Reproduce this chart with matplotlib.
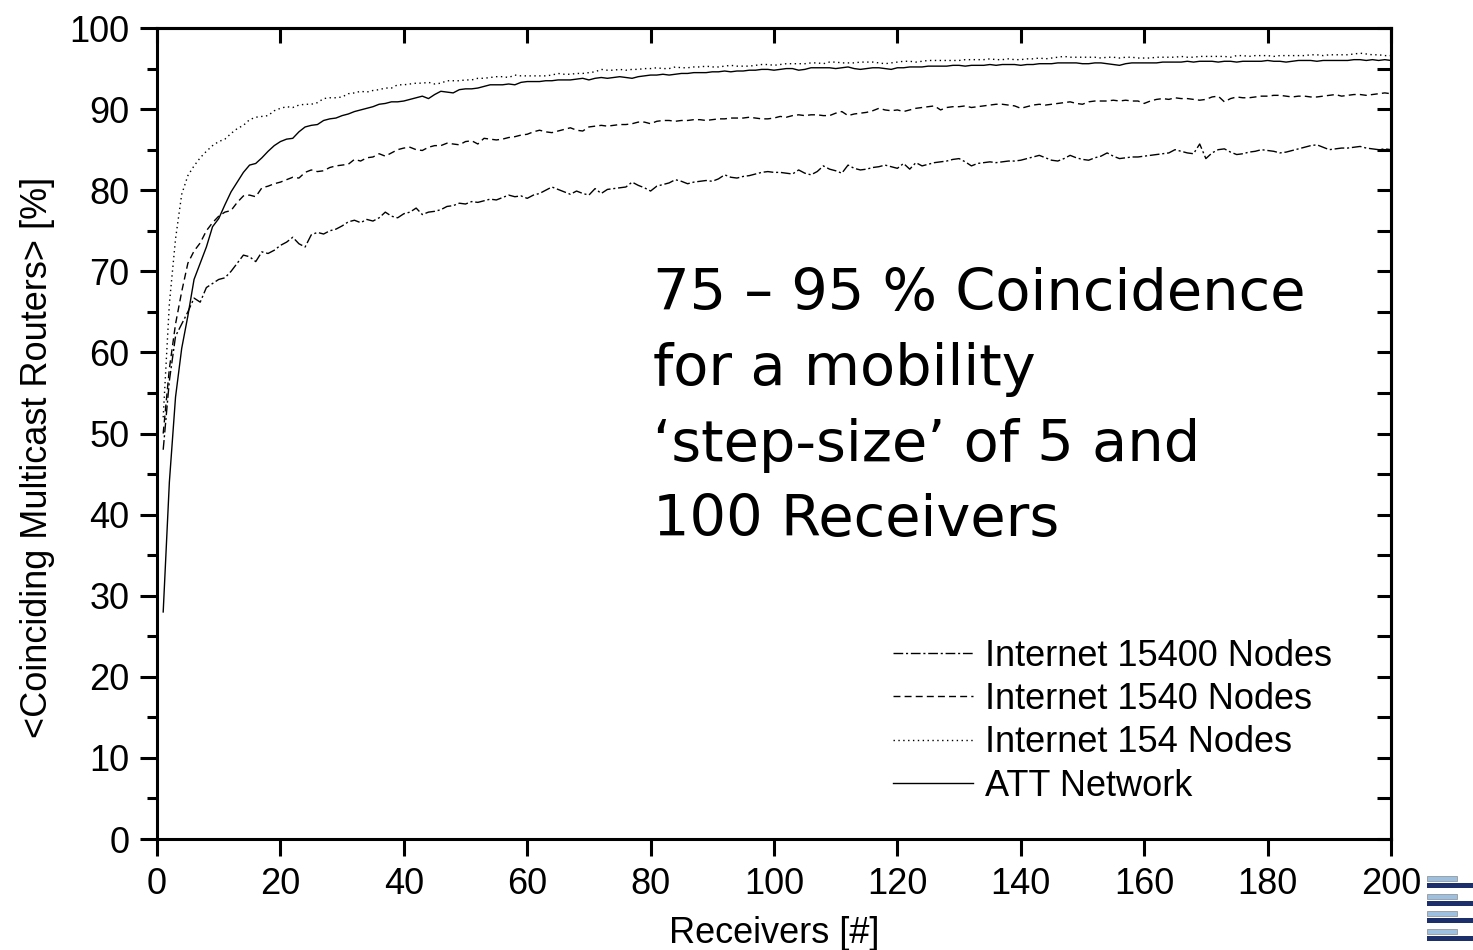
import numpy as np
import matplotlib
matplotlib.use("Agg")
import matplotlib.pyplot as plt
from matplotlib.patches import Rectangle

# receivers 1..200
receivers = list(range(1, 201))

att_network = [
    28.0, 44.0, 54.5, 60.5, 64.5, 69.0, 71.0, 73.0, 75.5, 76.5,
    78.2, 79.8, 81.0, 82.2, 83.1, 83.3, 84.0, 84.8, 85.5, 86.0,
    86.3, 86.4, 87.2, 87.8, 88.0, 88.1, 88.6, 88.8, 88.9, 89.2,
    89.4, 89.7, 89.9, 90.1, 90.3, 90.6, 90.7, 90.9, 90.9, 91.0,
    91.2, 91.4, 91.6, 91.3, 91.8, 92.2, 92.1, 92.0, 92.4, 92.5,
    92.5, 92.6, 92.8, 93.0, 93.0, 93.0, 93.1, 93.0, 93.3, 93.4,
    93.4, 93.4, 93.5, 93.5, 93.6, 93.6, 93.6, 93.7, 93.8, 93.6,
    93.8, 93.9, 93.8, 93.9, 94.0, 93.9, 93.8, 94.0, 94.1, 94.2,
    94.2, 94.3, 94.2, 94.3, 94.4, 94.4, 94.5, 94.5, 94.5, 94.6,
    94.6, 94.7, 94.6, 94.7, 94.7, 94.8, 94.8, 94.9, 94.9, 94.8,
    94.9, 95.0, 95.0, 94.8, 94.9, 95.1, 95.1, 95.1, 95.1, 95.0,
    95.1, 95.2, 95.0, 94.9, 95.0, 95.1, 95.1, 95.0, 94.9, 95.1,
    95.1, 95.2, 95.2, 95.2, 95.3, 95.3, 95.3, 95.3, 95.4, 95.4,
    95.3, 95.4, 95.4, 95.4, 95.5, 95.4, 95.5, 95.5, 95.5, 95.4,
    95.5, 95.5, 95.6, 95.6, 95.6, 95.7, 95.7, 95.7, 95.7, 95.6,
    95.6, 95.7, 95.7, 95.6, 95.5, 95.4, 95.6, 95.7, 95.7, 95.7,
    95.7, 95.7, 95.8, 95.8, 95.8, 95.8, 95.9, 95.8, 95.9, 95.9,
    95.9, 95.8, 95.9, 95.9, 95.8, 95.9, 95.9, 95.9, 95.9, 96.0,
    95.9, 95.9, 95.8, 95.9, 96.0, 96.0, 96.0, 95.9, 96.0, 96.0,
    96.0, 96.0, 96.0, 96.1, 96.1, 96.0, 96.1, 96.0, 96.1, 96.0,
]

inet_154 = [
    52.0, 66.0, 74.0, 79.5, 81.8, 83.0, 84.0, 84.8, 85.5, 86.0,
    86.3, 87.0, 87.6, 88.0, 88.7, 89.0, 89.1, 89.2, 89.8, 90.1,
    90.3, 90.2, 90.5, 90.6, 90.6, 90.8, 91.3, 91.4, 91.4, 91.5,
    91.9, 92.0, 92.2, 92.1, 92.3, 92.4, 92.6, 92.6, 93.0, 93.0,
    93.1, 93.2, 93.2, 93.3, 93.1, 93.2, 93.5, 93.5, 93.5, 93.6,
    93.6, 93.8, 93.8, 93.9, 94.0, 94.0, 93.9, 94.2, 94.1, 94.1,
    94.1, 94.1, 94.1, 94.2, 94.4, 94.3, 94.3, 94.4, 94.4, 94.5,
    94.6, 94.9, 94.8, 94.8, 94.9, 94.8, 94.9, 94.9, 95.0, 95.0,
    95.1, 95.0, 95.0, 95.2, 95.1, 95.1, 95.2, 95.2, 95.3, 95.2,
    95.2, 95.3, 95.4, 95.3, 95.3, 95.3, 95.4, 95.5, 95.5, 95.4,
    95.5, 95.6, 95.6, 95.6, 95.6, 95.7, 95.7, 95.6, 95.8, 95.8,
    95.7, 95.7, 95.7, 95.8, 95.8, 95.8, 95.7, 95.6, 95.7, 95.8,
    95.9, 95.9, 95.8, 95.9, 96.0, 96.0, 96.0, 96.0, 96.0, 96.0,
    96.1, 96.1, 96.1, 96.1, 96.2, 96.1, 96.1, 96.2, 96.1, 96.1,
    96.2, 96.2, 96.3, 96.2, 96.3, 96.4, 96.5, 96.4, 96.4, 96.4,
    96.4, 96.4, 96.3, 96.4, 96.4, 96.3, 96.4, 96.4, 96.3, 96.3,
    96.3, 96.4, 96.4, 96.4, 96.4, 96.5, 96.4, 96.4, 96.5, 96.5,
    96.5, 96.5, 96.5, 96.4, 96.6, 96.6, 96.5, 96.6, 96.6, 96.6,
    96.5, 96.6, 96.6, 96.6, 96.6, 96.6, 96.7, 96.7, 96.6, 96.7,
    96.7, 96.7, 96.7, 96.8, 96.9, 96.8, 96.7, 96.7, 96.6, 96.6,
]

inet_1540 = [
    50.0, 58.0, 63.5, 67.5, 71.0, 72.5, 73.5, 75.0, 76.0, 76.8,
    77.3, 77.5, 78.5, 79.3, 79.4, 79.2, 80.3, 80.5, 80.8, 81.0,
    81.3, 81.6, 81.5, 82.2, 82.5, 82.3, 82.4, 82.8, 83.0, 83.1,
    83.2, 83.8, 83.6, 84.0, 84.1, 84.5, 84.2, 84.6, 85.0, 85.2,
    85.3, 85.0, 84.9, 85.3, 85.5, 85.5, 85.8, 85.7, 85.6, 86.0,
    86.1, 85.7, 86.4, 86.3, 86.2, 86.3, 86.5, 86.6, 86.8, 86.9,
    87.2, 87.4, 87.2, 87.1, 87.3, 87.5, 87.7, 87.4, 87.3, 87.8,
    87.9, 88.0, 87.9, 88.0, 88.1, 88.1, 88.2, 88.4, 88.4, 88.2,
    88.5, 88.6, 88.6, 88.5, 88.6, 88.6, 88.7, 88.7, 88.6, 88.7,
    88.8, 88.8, 88.9, 88.9, 88.9, 89.0, 88.9, 88.8, 88.8, 88.9,
    89.1, 89.0, 89.2, 89.3, 89.2, 89.3, 89.3, 89.2, 89.2, 89.5,
    89.7, 89.2, 89.4, 89.5, 89.6, 89.8, 90.1, 89.9, 89.8, 89.9,
    89.7, 89.9, 90.1, 90.2, 90.3, 90.4, 89.9, 90.2, 90.3, 90.3,
    90.4, 90.2, 90.3, 90.4, 90.5, 90.6, 90.6, 90.5, 90.4, 90.1,
    90.3, 90.5, 90.6, 90.5, 90.6, 90.7, 90.8, 90.9, 90.7, 90.6,
    90.9, 91.0, 91.0, 91.0, 91.1, 91.0, 91.1, 91.0, 91.0, 90.7,
    91.0, 91.2, 91.3, 91.2, 91.4, 91.3, 91.3, 91.2, 91.1, 91.2,
    91.5, 91.6, 90.9, 91.3, 91.5, 91.4, 91.4, 91.5, 91.6, 91.6,
    91.7, 91.7, 91.6, 91.5, 91.6, 91.6, 91.5, 91.5, 91.6, 91.7,
    91.8, 91.6, 91.7, 91.8, 91.8, 91.7, 91.8, 91.9, 92.0, 91.9,
]

inet_15400 = [
    48.0, 56.5, 62.0, 63.5, 65.0, 66.7, 66.2, 68.0, 68.5, 69.0,
    69.2, 70.0, 71.0, 72.0, 71.8, 71.2, 72.4, 72.2, 72.6, 73.2,
    73.6, 74.2, 73.4, 73.0, 74.5, 74.8, 74.6, 75.0, 75.2, 75.6,
    76.1, 76.3, 76.0, 76.4, 76.2, 76.6, 77.3, 76.8, 76.6, 77.1,
    77.3, 77.8, 77.0, 77.3, 77.4, 77.6, 78.0, 78.1, 78.4, 78.3,
    78.6, 78.5, 78.7, 78.9, 78.8, 79.1, 79.4, 79.2, 79.3, 79.0,
    79.4, 79.6, 80.0, 80.4, 80.1, 79.8, 79.5, 79.9, 79.6, 79.4,
    80.2, 79.6, 80.1, 80.2, 80.3, 80.4, 81.0, 80.6, 80.3, 79.9,
    80.5, 80.7, 80.9, 81.3, 81.1, 80.8, 81.0, 81.1, 81.2, 81.1,
    81.4, 81.9, 81.6, 81.5, 81.7, 81.8, 82.0, 82.2, 82.3, 82.2,
    82.2, 82.1, 82.0, 82.5, 82.1, 81.9, 82.3, 83.0, 82.6, 82.4,
    82.1, 83.1, 82.7, 82.5, 82.6, 82.8, 82.9, 83.1, 82.9, 82.7,
    83.3, 82.6, 83.4, 83.0, 83.2, 83.4, 83.5, 83.6, 83.8, 83.9,
    83.5, 83.0, 83.3, 83.4, 83.5, 83.4, 83.5, 83.6, 83.6, 83.7,
    83.9, 84.1, 84.3, 84.0, 83.7, 83.6, 83.9, 84.3, 84.0, 83.8,
    83.7, 84.0, 84.2, 84.6, 84.2, 83.9, 84.0, 84.1, 84.1, 84.2,
    84.3, 84.4, 84.5, 84.6, 85.0, 84.8, 84.6, 84.5, 85.7, 83.9,
    84.6, 85.0, 85.1, 84.7, 84.4, 84.5, 84.7, 84.8, 85.0, 84.9,
    84.8, 84.6, 84.7, 84.9, 85.1, 85.3, 85.5, 85.6, 85.3, 85.0,
    85.1, 85.2, 85.2, 85.3, 85.4, 85.2, 85.1, 85.0, 85.1, 85.0,
]

plt.rcParams["font.family"] = ["Liberation Sans", "DejaVu Sans"]

fs = 26

fig = plt.figure(figsize=(14.73, 9.5), dpi=100)
ax = fig.add_axes([0.1066, 0.1168, 0.8377, 0.8537])

lw = 1.0
ax.plot(receivers, inet_15400, color="black", lw=lw, dashes=(7, 2, 1.5, 2),
        label="Internet 15400 Nodes")
ax.plot(receivers, inet_1540, color="black", lw=lw, dashes=(5, 3),
        label="Internet 1540 Nodes")
ax.plot(receivers, inet_154, color="black", lw=lw, dashes=(1, 2.5),
        label="Internet 154 Nodes")
ax.plot(receivers, att_network, color="black", lw=lw, label="ATT Network")

ax.set_xlim(0, 200)
ax.set_ylim(0, 100)

for s in ax.spines.values():
    s.set_linewidth(2.2)

ax.set_xticks(np.arange(0, 201, 20))
ax.set_yticks(np.arange(0, 101, 10))
ax.set_yticks(np.arange(5, 100, 10), minor=True)
ax.tick_params(axis="both", which="major", direction="out", length=12,
               width=2.2, labelsize=fs)
ax.tick_params(axis="x", which="major", pad=8)
ax.tick_params(axis="y", which="major", pad=8)
ax.tick_params(axis="y", which="minor", direction="out", length=7, width=2.2)
ax.tick_params(top=False, right=False)

# inward ticks on the top and right frame
top = ax.secondary_xaxis("top")
top.set_xticks(np.arange(0, 201, 20))
top.tick_params(direction="in", length=11, width=2.2, labeltop=False)
right = ax.secondary_yaxis("right")
right.set_yticks(np.arange(0, 101, 5))
right.tick_params(direction="in", length=10, width=2.2, labelright=False)
for sec in (top, right):
    for s in sec.spines.values():
        s.set_linewidth(2.2)

ax.set_xlabel("Receivers [#]", fontsize=fs)
ax.xaxis.set_label_coords(0.5, -0.116)
ax.xaxis.label.set_va("center")
ax.set_ylabel("<Coinciding Multicast Routers> [%]", fontsize=fs)
ax.yaxis.set_label_coords(-0.097, 0.47)
ax.yaxis.label.set_va("center")

ax.text(0.402, 0.705,
        "75 \u2013 95 % Coincidence\nfor a mobility\n\u2018step-size\u2019 of 5 and\n100 Receivers",
        transform=ax.transAxes, fontsize=41.4, family="DejaVu Sans",
        va="top", ha="left", linespacing=1.47)

leg = ax.legend(loc="lower left", bbox_to_anchor=(0.585, 0.026), frameon=False,
                fontsize=fs, handlelength=2.2, handletextpad=0.33,
                labelspacing=0.23, borderaxespad=0)

# small logo in the corner
W, H = 1473, 950
def px_rect(x0, y0, x1, y1, color, ec="none"):
    fig.add_artist(Rectangle((x0 / W, 1 - y1 / H), (x1 - x0) / W, (y1 - y0) / H,
                             transform=fig.transFigure, facecolor=color,
                             edgecolor=ec, lw=0.5))

for k in range(4):
    y0 = 876 + k * 17.5
    px_rect(1427, y0, 1457, y0 + 5, "#9dbfe0", ec="#8a8a8a")
    px_rect(1427, y0 + 7, 1473, y0 + 12, "#1c2f6b")

fig.savefig("out.png", dpi=100)
